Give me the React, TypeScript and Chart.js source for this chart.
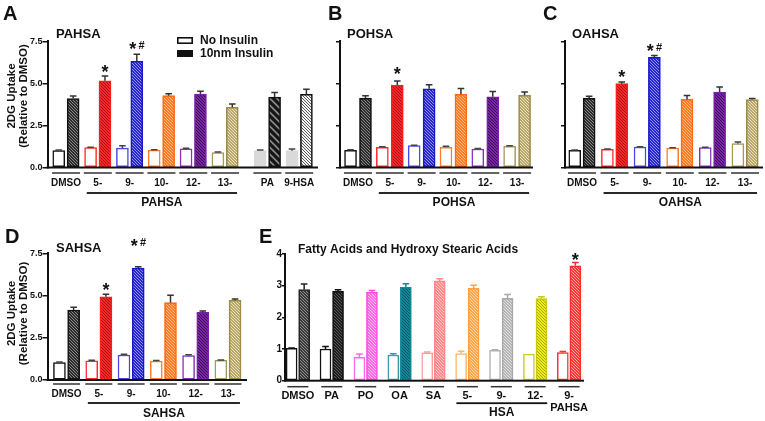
import React, { useEffect, useRef } from 'react';
import { Chart, registerables } from 'chart.js';

Chart.register(...registerables);

const W = 765;
const H = 421;
const FONT = "'Liberation Sans', Arial, Helvetica, sans-serif";
const INK = '#111111';

// ---------------- Data ----------------
const SERIES = ['No Insulin', '10nm Insulin'];
const AD_yTicks = [0, 2.5, 5.0, 7.5];
const E_yTicks = [0, 1, 2, 3, 4];

// Panel A: PAHSA
const A_categories = ['DMSO', '5-', '9-', '10-', '12-', '13-', 'PA', '9-HSA'];
const A_noInsulin = [1.01, 1.19, 1.15, 1.03, 1.11, 0.89, 1.0, 1.0];
const A_noInsulinErr = [0.03, 0.02, 0.14, 0.02, 0.03, 0.03, 0.04, 0.1];
const A_insulin = [4.1, 5.15, 6.31, 4.27, 4.37, 3.58, 4.19, 4.35];
const A_insulinErr = [0.15, 0.29, 0.42, 0.12, 0.16, 0.2, 0.26, 0.3];
const A_marks = ['', '*', '*#', '', '', '', '', ''];
const A_markLevels = [null, 5.92, 7.28, null, null, null, null, null];

// Panel B: POHSA
const B_categories = ['DMSO', '5-', '9-', '10-', '12-', '13-'];
const B_noInsulin = [1.02, 1.2, 1.3, 1.2, 1.1, 1.26];
const B_noInsulinErr = [0.03, 0.03, 0.02, 0.06, 0.03, 0.04];
const B_insulin = [4.12, 4.9, 4.68, 4.36, 4.2, 4.3];
const B_insulinErr = [0.14, 0.24, 0.24, 0.34, 0.32, 0.18];
const B_marks = ['', '*', '', '', '', ''];
const B_markLevels = [null, 5.78, null, null, null, null];

// Panel C: OAHSA
const C_categories = ['DMSO', '5-', '9-', '10-', '12-', '13-'];
const C_noInsulin = [1.02, 1.08, 1.22, 1.16, 1.18, 1.42];
const C_noInsulinErr = [0.02, 0.02, 0.02, 0.02, 0.03, 0.1];
const C_insulin = [4.12, 4.98, 6.54, 4.06, 4.48, 4.04];
const C_insulinErr = [0.12, 0.1, 0.12, 0.22, 0.3, 0.06];
const C_marks = ['', '*', '*#', '', '', ''];
const C_markLevels = [null, 5.59, 7.18, null, null, null];

// Panel D: SAHSA
const D_categories = ['DMSO', '5-', '9-', '10-', '12-', '13-'];
const D_noInsulin = [1.03, 1.14, 1.48, 1.12, 1.44, 1.16];
const D_noInsulinErr = [0.03, 0.03, 0.04, 0.04, 0.06, 0.03];
const D_insulin = [4.14, 4.93, 6.63, 4.58, 4.0, 4.72];
const D_insulinErr = [0.16, 0.14, 0.08, 0.43, 0.08, 0.08];
const D_marks = ['', '*', '*#', '', '', ''];
const D_markLevels = [null, 5.56, 8.17, null, null, null];

// Panel E: Fatty acids and hydroxy stearic acids
const E_categories = ['DMSO', 'PA', 'PO', 'OA', 'SA', '5-', '9-', '12-', '9-\nPAHSA'];
const E_noInsulin = [1.02, 1.0, 0.74, 0.81, 0.88, 0.86, 0.96, 0.84, 0.89];
const E_noInsulinErr = [0.01, 0.08, 0.1, 0.04, 0.03, 0.07, 0.02, 0, 0.03];
const E_insulin = [2.88, 2.82, 2.79, 2.95, 3.15, 2.92, 2.6, 2.59, 3.63];
const E_insulinErr = [0.17, 0.05, 0.06, 0.11, 0.07, 0.09, 0.12, 0.06, 0.1];
const E_marks = ['', '', '', '', '', '', '', '', '*'];
const E_markLevels = [null, null, null, null, null, null, null, null, 3.94];

// ---------------- Styles ----------------
type Hatch = [string, string, number, number];

const HSA_BORDER = ['#111111', '#ff1c1c', '#1818c8', '#ff6b12', '#7b1fa8', '#9c8a4c'];
const HSA_NOINS_BORDER = ['#111111', '#ff2a2a', '#4848e6', '#ff7a2a', '#8a30b8', '#a89858'];
const HSA_HATCH: Hatch[] = [
  ['#2b2b2b', '#8a8a8a', 3, 1],
  ['#f42a2a', '#a80f0f', 3, 1],
  ['#2626cc', '#9494ee', 3, 1],
  ['#ff7a22', '#ffbb88', 3, 1],
  ['#7a26a6', '#33084d', 3, 1],
  ['#b8a76a', '#ebe2bc', 3, 1],
];
const CTRL_BORDER = ['#111111', '#111111'];
const CTRL_NOINS_FILL = ['#d9d9d9', '#d9d9d9'];
const CTRL_HATCH: Hatch[] = [
  ['#8a8a8a', '#151515', 7, 3.2],
  ['#f2f2f2', '#5a5a5a', 3, 1],
];

const E_BORDER = ['#222222', '#111111', '#ff4ae0', '#14899b', '#ff8888', '#ffa040', '#a8a8a8', '#c8c814', '#ff2a2a'];
const E_NOINS_BORDER = ['#111111', '#111111', '#ff66e8', '#3a9caa', '#ff9c9c', '#ffb466', '#b0b0b0', '#cccc20', '#ff3030'];
const E_HATCH: Hatch[] = [
  ['#3a3a3a', '#909090', 3, 1],
  ['#1c1c1c', '#5a5a5a', 3, 1],
  ['#ff66e6', '#ffc4f6', 3, 1],
  ['#12879a', '#0a5561', 3, 1],
  ['#ff8a8a', '#ffc8c8', 3, 1],
  ['#ffa448', '#ffd8a8', 3, 1],
  ['#b4b4b4', '#e4e4e4', 3, 1],
  ['#eeee1a', '#a8a800', 3, 1],
  ['#ff3434', '#ffa8a8', 3, 1],
];

// ---------------- Panel specs ----------------
type Group = { label: string; from: number; to: number };
interface PanelSpec {
  id: string;
  letter: string;
  letterPos: [number, number];
  title: string;
  titlePos: [number, number];
  titleSize: number;
  categories: string[];
  noIns: number[];
  noInsErr: number[];
  ins: number[];
  insErr: number[];
  marks: string[];
  markLevels: (number | null)[];
  groups: Group[];
  gapAt?: number;
  gapSize?: number;
  area: { left: number; right: number; top: number; bottom: number };
  xMin: number;
  xMax: number;
  yTicks: number[];
  decimals: number;
  showTickLabels: boolean;
  tickLen: number;
  tickSize: number;
  barW: number;
  offset: number;
  noInsFill: string[];
  noInsBorder: string[];
  insHatch: Hatch[];
  insBorder: string[];
  insErrColor: string[];
  noInsErrColor: string[];
  lab: { under: number; label: number; group: number; groupLabel: number; lineGap: number };
  underW: number;
  catSize: number;
  yTitle?: { lines: string[]; x: number[]; cy: number };
  legend?: { x: number; y: number };
}

const TOP_LAB = { under: 5.5, label: 15.5, group: 25.5, groupLabel: 35.5, lineGap: 12 };
const rep = (v: string, n: number) => Array.from({ length: n }, () => v);

const SPECS: PanelSpec[] = [
  {
    id: 'A', letter: 'A', letterPos: [3, 20], title: 'PAHSA', titlePos: [56, 38], titleSize: 13,
    categories: A_categories, noIns: A_noInsulin, noInsErr: A_noInsulinErr, ins: A_insulin, insErr: A_insulinErr,
    marks: A_marks, markLevels: A_markLevels,
    groups: [{ label: 'PAHSA', from: 1, to: 5 }], gapAt: 6, gapSize: 0.33,
    area: { left: 47.5, right: 318, top: 41.3, bottom: 167.5 }, xMin: -0.58, xMax: 7.92,
    yTicks: AD_yTicks, decimals: 1, showTickLabels: true, tickLen: 5, tickSize: 9,
    barW: 12, offset: 0.226,
    noInsFill: [...rep('#ffffff', 6), ...CTRL_NOINS_FILL],
    noInsBorder: [...HSA_NOINS_BORDER, ...CTRL_NOINS_FILL],
    insHatch: [...HSA_HATCH, ...CTRL_HATCH], insBorder: [...HSA_BORDER, ...CTRL_BORDER],
    insErrColor: rep('#333333', 8), noInsErrColor: rep('#444444', 8),
    lab: TOP_LAB, underW: 28, catSize: 10,
    yTitle: { lines: ['2DG Uptake', '(Relative to DMSO)'], x: [11.5, 23.5], cy: 96 },
    legend: { x: 177, y: 37 },
  },
  {
    id: 'B', letter: 'B', letterPos: [328, 20], title: 'POHSA', titlePos: [347, 38], titleSize: 13,
    categories: B_categories, noIns: B_noInsulin, noInsErr: B_noInsulinErr, ins: B_insulin, insErr: B_insulinErr,
    marks: B_marks, markLevels: B_markLevels,
    groups: [{ label: 'POHSA', from: 1, to: 5 }],
    area: { left: 340, right: 533, top: 41.3, bottom: 167.5 }, xMin: -0.566, xMax: 5.5,
    yTicks: AD_yTicks, decimals: 1, showTickLabels: false, tickLen: 4, tickSize: 9,
    barW: 12, offset: 0.235,
    noInsFill: rep('#ffffff', 6), noInsBorder: HSA_NOINS_BORDER,
    insHatch: HSA_HATCH, insBorder: HSA_BORDER,
    insErrColor: rep('#333333', 6), noInsErrColor: rep('#444444', 6),
    lab: TOP_LAB, underW: 28, catSize: 10,
  },
  {
    id: 'C', letter: 'C', letterPos: [543, 20], title: 'OAHSA', titlePos: [572, 38], titleSize: 13,
    categories: C_categories, noIns: C_noInsulin, noInsErr: C_noInsulinErr, ins: C_insulin, insErr: C_insulinErr,
    marks: C_marks, markLevels: C_markLevels,
    groups: [{ label: 'OAHSA', from: 1, to: 5 }],
    area: { left: 565, right: 763, top: 41.3, bottom: 167.5 }, xMin: -0.52, xMax: 5.55,
    yTicks: AD_yTicks, decimals: 1, showTickLabels: false, tickLen: 4, tickSize: 9,
    barW: 12, offset: 0.22,
    noInsFill: rep('#ffffff', 6), noInsBorder: HSA_NOINS_BORDER,
    insHatch: HSA_HATCH, insBorder: HSA_BORDER,
    insErrColor: rep('#333333', 6), noInsErrColor: rep('#444444', 6),
    lab: TOP_LAB, underW: 28, catSize: 10,
  },
  {
    id: 'D', letter: 'D', letterPos: [5, 243], title: 'SAHSA', titlePos: [56, 252], titleSize: 13,
    categories: D_categories, noIns: D_noInsulin, noInsErr: D_noInsulinErr, ins: D_insulin, insErr: D_insulinErr,
    marks: D_marks, markLevels: D_markLevels,
    groups: [{ label: 'SAHSA', from: 1, to: 5 }],
    area: { left: 47.5, right: 247, top: 253.3, bottom: 380 }, xMin: -0.59, xMax: 5.59,
    yTicks: AD_yTicks, decimals: 1, showTickLabels: true, tickLen: 5, tickSize: 9,
    barW: 12, offset: 0.22,
    noInsFill: rep('#ffffff', 6), noInsBorder: HSA_NOINS_BORDER,
    insHatch: HSA_HATCH, insBorder: HSA_BORDER,
    insErrColor: rep('#333333', 6), noInsErrColor: rep('#444444', 6),
    lab: { under: 4, label: 14, group: 23, groupLabel: 34, lineGap: 12 }, underW: 27, catSize: 10,
    yTitle: { lines: ['2DG Uptake', '(Relative to DMSO)'], x: [12, 24], cy: 313.5 },
  },
  {
    id: 'E', letter: 'E', letterPos: [259, 243], title: 'Fatty Acids and Hydroxy Stearic Acids', titlePos: [298, 253], titleSize: 12,
    categories: E_categories, noIns: E_noInsulin, noInsErr: E_noInsulinErr, ins: E_insulin, insErr: E_insulinErr,
    marks: E_marks, markLevels: E_markLevels,
    groups: [{ label: 'HSA', from: 5, to: 7 }],
    area: { left: 285, right: 584, top: 254, bottom: 380.7 }, xMin: -0.38, xMax: 8.44,
    yTicks: E_yTicks, decimals: 0, showTickLabels: true, tickLen: 3, tickSize: 10,
    barW: 11, offset: 0.185,
    noInsFill: rep('#ffffff', 9), noInsBorder: E_NOINS_BORDER,
    insHatch: E_HATCH, insBorder: E_BORDER,
    insErrColor: E_BORDER, noInsErrColor: E_NOINS_BORDER,
    lab: { under: 6, label: 15.5, group: 22.5, groupLabel: 31.5, lineGap: 12 }, underW: 21, catSize: 11,
  },
];

// ---------------- Helpers ----------------
function hatch(ctx: CanvasRenderingContext2D, h: Hatch): CanvasPattern | string {
  const [base, stripe, period, lw] = h;
  const c = document.createElement('canvas');
  c.width = period;
  c.height = period;
  const g = c.getContext('2d');
  if (!g) return base;
  g.fillStyle = base;
  g.fillRect(0, 0, period, period);
  g.strokeStyle = stripe;
  g.lineWidth = lw;
  g.beginPath();
  for (let k = -1; k <= 1; k++) {
    g.moveTo(k * period - 1, -1);
    g.lineTo(k * period + period + 1, period + 1);
  }
  g.stroke();
  return ctx.createPattern(c, 'repeat') || base;
}

function txt(ctx: CanvasRenderingContext2D, s: string, x: number, y: number, size: number,
  align: CanvasTextAlign = 'left', baseline: CanvasTextBaseline = 'alphabetic', color = INK) {
  ctx.font = `bold ${size}px ${FONT}`;
  ctx.fillStyle = color;
  ctx.textAlign = align;
  ctx.textBaseline = baseline;
  ctx.fillText(s, x, y);
}

function positions(spec: PanelSpec): number[] {
  return spec.categories.map((_, i) =>
    i + (spec.gapAt !== undefined && i >= spec.gapAt ? (spec.gapSize || 0) : 0));
}

function overlay(spec: PanelSpec, pos: number[]) {
  return {
    id: 'overlay' + spec.id,
    afterDatasetsDraw(chart: any) {
      const ctx: CanvasRenderingContext2D = chart.ctx;
      const ys = chart.scales.y;
      const area = chart.chartArea;
      ctx.save();
      ctx.fillStyle = INK;
      ctx.fillRect(area.left - 1, area.bottom - 1, area.right - area.left + 1, 2);
      chart.data.datasets.forEach((ds: any, di: number) => {
        const meta = chart.getDatasetMeta(di);
        meta.data.forEach((el: any, i: number) => {
          const err = ds.errors[i];
          if (!err) return;
          const top = ys.getPixelForValue(ds.data[i].y + err);
          ctx.strokeStyle = ds.errColors[i];
          ctx.lineWidth = 1.5;
          ctx.beginPath();
          ctx.moveTo(el.x, el.y);
          ctx.lineTo(el.x, top);
          ctx.moveTo(el.x - 3.3, top);
          ctx.lineTo(el.x + 3.3, top);
          ctx.stroke();
        });
      });
      const insMeta = chart.getDatasetMeta(1);
      spec.marks.forEach((m, i) => {
        const lv = spec.markLevels[i];
        if (!m || lv === null) return;
        const x = insMeta.data[i].x;
        const cy = ys.getPixelForValue(lv);
        if (m === '*') {
          txt(ctx, '*', x, cy + 10, 18, 'center');
        } else {
          txt(ctx, '*', x - 4, cy + 10, 18, 'center');
          txt(ctx, '#', x + 4.8, cy + 3.9, 11, 'center');
        }
      });
      ctx.restore();
    },
    afterDraw(chart: any) {
      const ctx: CanvasRenderingContext2D = chart.ctx;
      const xs = chart.scales.x;
      const bottom = chart.chartArea.bottom;
      ctx.save();
      txt(ctx, spec.letter, spec.letterPos[0], spec.letterPos[1], 20);
      txt(ctx, spec.title, spec.titlePos[0], spec.titlePos[1], spec.titleSize);
      if (spec.yTitle) {
        spec.yTitle.lines.forEach((line, k) => {
          ctx.save();
          ctx.translate(spec.yTitle!.x[k], spec.yTitle!.cy);
          ctx.rotate(-Math.PI / 2);
          txt(ctx, line, 0, 0, 11.5, 'center', 'middle');
          ctx.restore();
        });
      }
      if (spec.legend) {
        const { x, y } = spec.legend;
        ctx.fillStyle = '#ffffff';
        ctx.fillRect(x, y, 16, 7);
        ctx.strokeStyle = INK;
        ctx.lineWidth = 1.6;
        ctx.strokeRect(x + 0.8, y + 0.8, 14.4, 5.4);
        ctx.fillStyle = INK;
        ctx.fillRect(x, y + 13, 16, 7);
        chart.data.datasets.forEach((ds: any, k: number) => {
          txt(ctx, ds.label, x + 23, y + 3.7 + 13 * k, 12, 'left', 'middle');
        });
      }
      pos.forEach((p, i) => {
        const px = xs.getPixelForValue(p);
        ctx.fillStyle = '#333333';
        ctx.fillRect(px - spec.underW / 2, bottom + spec.lab.under - 0.75, spec.underW, 1.5);
        spec.categories[i].split('\n').forEach((line, k) => {
          txt(ctx, line, px, bottom + spec.lab.label + k * spec.lab.lineGap, spec.catSize, 'center', 'middle');
        });
      });
      spec.groups.forEach((g) => {
        const x1 = xs.getPixelForValue(pos[g.from]) - 11;
        const x2 = xs.getPixelForValue(pos[g.to]) + 12;
        ctx.fillStyle = INK;
        ctx.fillRect(x1, bottom + spec.lab.group - 0.9, x2 - x1, 1.8);
        txt(ctx, g.label, (x1 + x2) / 2, bottom + spec.lab.groupLabel, 12, 'center', 'middle');
      });
      ctx.restore();
    },
  };
}

function buildConfig(spec: PanelSpec, ctx: CanvasRenderingContext2D): any {
  const pos = positions(spec);
  const YW = 40;
  const a = spec.area;
  const insFill = spec.insHatch.map((h) => hatch(ctx, h));
  return {
    type: 'bar',
    data: {
      datasets: [
        {
          label: SERIES[0],
          data: pos.map((p, i) => ({ x: p - spec.offset, y: spec.noIns[i] })),
          backgroundColor: spec.noInsFill,
          borderColor: spec.noInsBorder,
          borderWidth: 1.5,
          borderSkipped: false,
          grouped: false,
          barThickness: spec.barW,
          errors: spec.noInsErr,
          errColors: spec.noInsErrColor,
        },
        {
          label: SERIES[1],
          data: pos.map((p, i) => ({ x: p + spec.offset, y: spec.ins[i] })),
          backgroundColor: insFill,
          borderColor: spec.insBorder,
          borderWidth: 1.6,
          borderSkipped: false,
          grouped: false,
          barThickness: spec.barW,
          errors: spec.insErr,
          errColors: spec.insErrColor,
        },
      ],
    },
    options: {
      responsive: false,
      animation: false,
      events: [],
      layout: {
        padding: { left: a.left - YW, right: W - a.right, top: a.top, bottom: H - a.bottom },
      },
      plugins: { legend: { display: false }, tooltip: { enabled: false }, title: { display: false } },
      scales: {
        x: {
          type: 'linear',
          display: false,
          min: spec.xMin,
          max: spec.xMax,
          offset: false,
          grid: { display: false, offset: false },
        },
        y: {
          type: 'linear',
          min: spec.yTicks[0],
          max: spec.yTicks[spec.yTicks.length - 1],
          afterFit: (s: any) => { s.width = YW; },
          afterBuildTicks: (s: any) => { s.ticks = spec.yTicks.map((v) => ({ value: v })); },
          border: { display: true, color: INK, width: 2 },
          grid: { display: true, drawOnChartArea: false, drawTicks: true, tickLength: spec.tickLen, color: INK, lineWidth: 1.5 },
          ticks: {
            display: spec.showTickLabels,
            padding: 0,
            color: INK,
            font: { family: FONT, size: spec.tickSize, weight: 'bold' },
            callback: (v: any) => Number(v).toFixed(spec.decimals),
          },
        },
      },
    },
    plugins: [overlay(spec, pos)],
  };
}

function Panel({ spec }: { spec: PanelSpec }) {
  const ref = useRef<HTMLCanvasElement>(null);
  useEffect(() => {
    const canvas = ref.current;
    if (!canvas) return;
    const ctx = canvas.getContext('2d');
    if (!ctx) return;
    const chart = new Chart(ctx, buildConfig(spec, ctx));
    return () => chart.destroy();
  }, [spec]);
  return (
    <canvas
      ref={ref}
      width={W}
      height={H}
      style={{ position: 'absolute', left: 0, top: 0, width: W, height: H }}
    />
  );
}

export default function App() {
  return (
    <div style={{ position: 'absolute', left: 0, top: 0, width: W, height: H, background: '#ffffff', overflow: 'hidden' }}>
      {SPECS.map((s) => (
        <Panel key={s.id} spec={s} />
      ))}
    </div>
  );
}
